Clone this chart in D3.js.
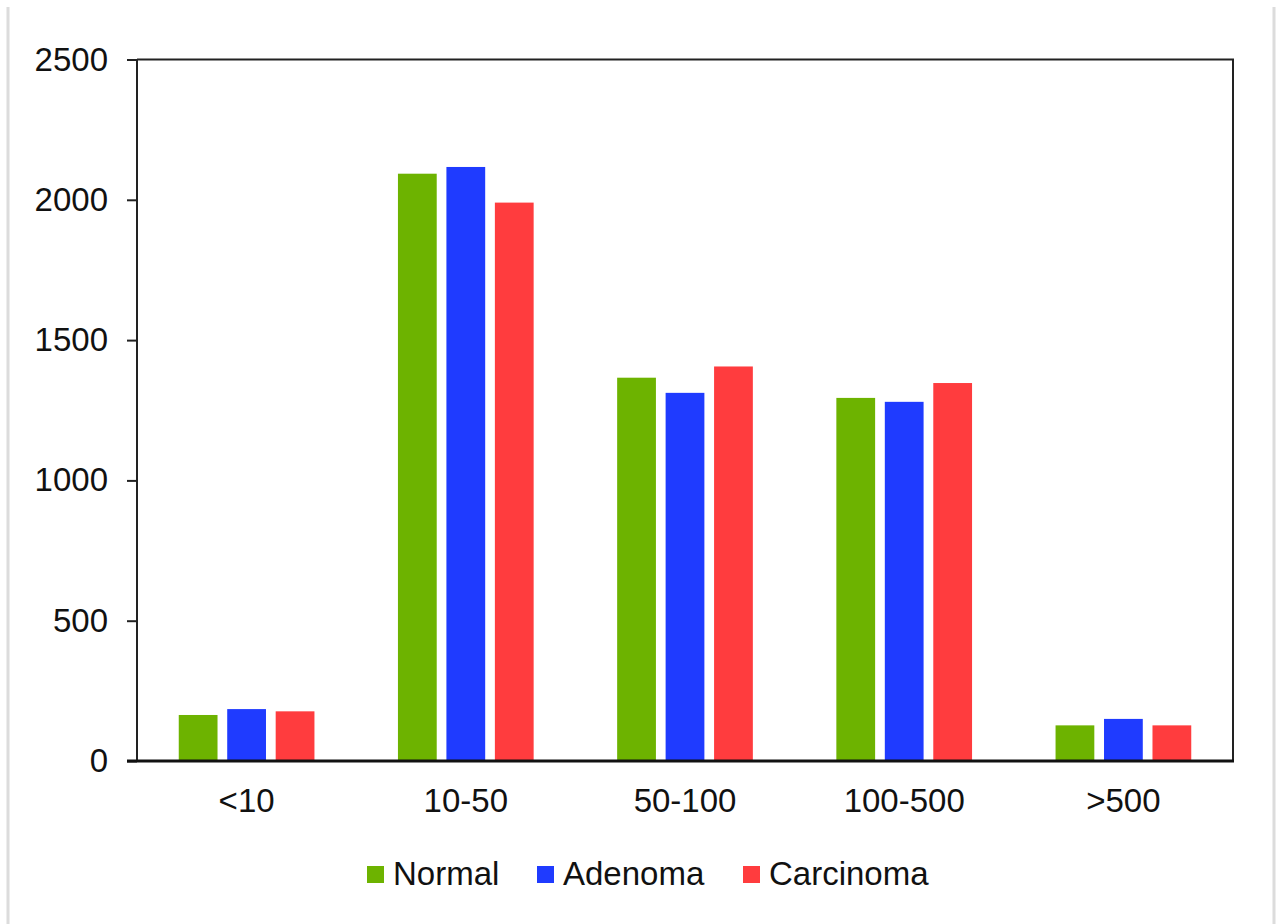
<!DOCTYPE html>
<html>
<head>
<meta charset="utf-8">
<script src="https://cdn.jsdelivr.net/npm/d3@7"></script>
<style>
  html, body { margin: 0; padding: 0; background: #fff; }
  svg { display: block; font-family: "Liberation Sans", Arial, sans-serif; }
</style>
</head>
<body>
<svg id="chart" width="1277" height="924"></svg>
<script>
// Size bins of the counted features
const categories = ["<10", "10-50", "50-100", "100-500", ">500"];
const seriesNames = ["Normal", "Adenoma", "Carcinoma"];
const normalValues = [164, 2093, 1366, 1294, 127];
const adenomaValues = [185, 2117, 1312, 1280, 150];
const carcinomaValues = [177, 1990, 1406, 1347, 127];
const yTicks = [0, 500, 1000, 1500, 2000, 2500];
const seriesColors = ["#6db300", "#1f3bff", "#ff3c3e"];

const seriesValues = [normalValues, adenomaValues, carcinomaValues];
const rows = categories.map((c, i) => ({
  category: c,
  values: seriesNames.map((s, j) => ({ series: s, value: seriesValues[j][i] }))
}));

const svg = d3.select("#chart");
const plot = { left: 137, right: 1233, top: 59.5, bottom: 761 };

// side rules of the page frame
svg.append("line").attr("x1", 8).attr("x2", 8).attr("y1", 7).attr("y2", 924)
  .attr("stroke", "#dcdcdc").attr("stroke-width", 3);
svg.append("line").attr("x1", 1274).attr("x2", 1274).attr("y1", 7).attr("y2", 924)
  .attr("stroke", "#dcdcdc").attr("stroke-width", 3);

const x = d3.scaleBand().domain(categories).range([plot.left, plot.right]).padding(0);
const groupWidth = 135.7;
const xInner = d3.scaleBand().domain(seriesNames)
  .range([(x.bandwidth() - groupWidth) / 2, (x.bandwidth() + groupWidth) / 2])
  .paddingInner(0.2).paddingOuter(0);
const y = d3.scaleLinear().domain([0, 2500]).range([plot.bottom, plot.top]);
const color = d3.scaleOrdinal().domain(seriesNames).range(seriesColors);

// bars
const groups = svg.append("g").selectAll("g").data(rows).join("g")
  .attr("transform", d => `translate(${x(d.category)},0)`);
groups.selectAll("rect").data(d => d.values).join("rect")
  .attr("x", d => xInner(d.series))
  .attr("width", xInner.bandwidth())
  .attr("y", d => y(d.value))
  .attr("height", d => y(0) - y(d.value))
  .attr("fill", d => color(d.series));

// top and right frame of the plot area
svg.append("path")
  .attr("d", `M${plot.left},${plot.top}H${plot.right}V${plot.bottom}`)
  .attr("fill", "none").attr("stroke", "#222").attr("stroke-width", 2);

// y axis
const yAxis = d3.axisLeft(y).tickValues(yTicks).tickSize(10).tickPadding(19).tickFormat(d3.format("d"));
const gy = svg.append("g").attr("transform", `translate(${plot.left},0)`).call(yAxis);
gy.select(".domain").attr("stroke", "#222").attr("stroke-width", 2).attr("d", `M0,${plot.top}V${plot.bottom}`);
gy.selectAll(".tick line").attr("stroke", "#222").attr("stroke-width", 2);
gy.selectAll(".tick text").attr("font-size", 33).attr("fill", "#111")
  .attr("font-family", "Liberation Sans, Arial, sans-serif");

// x axis
const xAxis = d3.axisBottom(x).tickSize(0).tickPadding(28);
const gx = svg.append("g").attr("transform", `translate(0,${plot.bottom})`).call(xAxis);
gx.select(".domain").attr("stroke", "#111").attr("stroke-width", 3)
  .attr("d", `M${plot.left - 10},0H${plot.right + 1}`);
gx.selectAll(".tick text").attr("font-size", 33).attr("fill", "#111")
  .attr("font-family", "Liberation Sans, Arial, sans-serif");

// legend
const legendX = [367, 537, 743];
const legend = svg.append("g").selectAll("g").data(seriesNames).join("g")
  .attr("transform", (d, i) => `translate(${legendX[i]},866)`);
legend.append("rect").attr("width", 17).attr("height", 17).attr("fill", d => color(d));
legend.append("text").attr("x", 26).attr("y", 19)
  .attr("font-size", 33).attr("fill", "#111").text(d => d);
</script>
</body>
</html>
